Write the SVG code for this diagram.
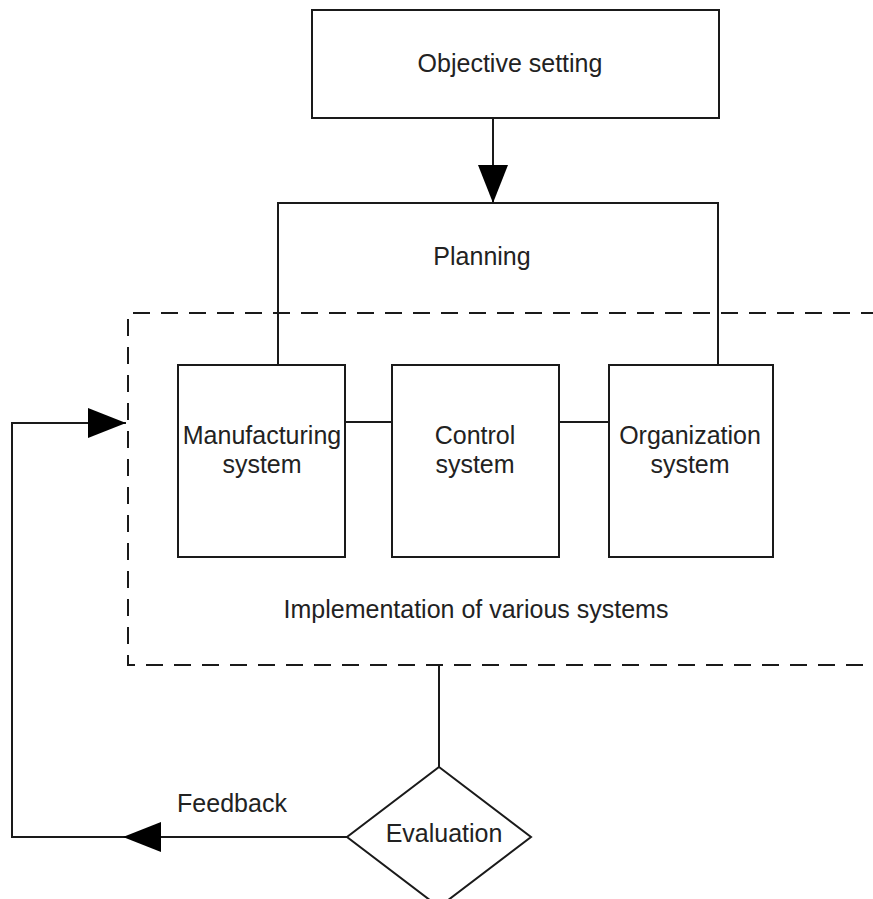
<svg xmlns="http://www.w3.org/2000/svg" width="873" height="899" viewBox="0 0 873 899">
  <style>
    .box { fill: #fff; stroke: #1a1a1a; stroke-width: 2; }
    .line { fill: none; stroke: #1a1a1a; stroke-width: 2; }
    .dash { fill: none; stroke: #1a1a1a; stroke-width: 2; stroke-dasharray: 17 11; }
    .lbl { font-family: "Liberation Sans", Arial, sans-serif; font-size: 25px; fill: #222; text-anchor: middle; }
  </style>
  <defs>
    <marker id="head" viewBox="0 0 38 30" refX="38" refY="15" markerWidth="38" markerHeight="30" markerUnits="userSpaceOnUse" orient="auto">
      <path d="M0,0 L38,15 L0,30 Z" fill="#000"/>
    </marker>
  </defs>
  <rect width="873" height="899" fill="#fff"/>

  <!-- implementation boundary -->
  <g id="implementation">
    <path class="dash" d="M878 313 H128 V665 H878"/>
    <text class="lbl" x="476" y="618">Implementation of various systems</text>
  </g>

  <g id="connectors">
    <path class="line" d="M493 118 V203" marker-end="url(#head)"/>
    <path class="line" d="M278 365 V203 H718 V365"/>
    <path class="line" d="M345 422 H392"/>
    <path class="line" d="M559 422 H609"/>
    <path class="line" d="M439 665 V767"/>
    <path class="line" d="M347 837 H123" marker-end="url(#head)"/>
    <path class="line" d="M123 837 H12 V423 H126" marker-end="url(#head)"/>
  </g>

  <g id="objective">
    <rect class="box" x="312" y="10" width="407" height="108"/>
    <text class="lbl" x="510" y="72">Objective setting</text>
  </g>

  <g id="planning">
    <text class="lbl" x="482" y="265">Planning</text>
  </g>

  <g id="manufacturing">
    <rect class="box" x="178" y="365" width="167" height="192"/>
    <text class="lbl" x="262" y="444">Manufacturing</text>
    <text class="lbl" x="262" y="473">system</text>
  </g>

  <g id="control">
    <rect class="box" x="392" y="365" width="167" height="192"/>
    <text class="lbl" x="475" y="444">Control</text>
    <text class="lbl" x="475" y="473">system</text>
  </g>

  <g id="organization">
    <rect class="box" x="609" y="365" width="164" height="192"/>
    <text class="lbl" x="690" y="444">Organization</text>
    <text class="lbl" x="690" y="473">system</text>
  </g>

  <g id="evaluation">
    <polygon class="box" points="439,767 531,837 439,907 347,837"/>
    <text class="lbl" x="444" y="842">Evaluation</text>
  </g>

  <g id="feedback-label">
    <text class="lbl" x="232" y="812">Feedback</text>
  </g>
</svg>
